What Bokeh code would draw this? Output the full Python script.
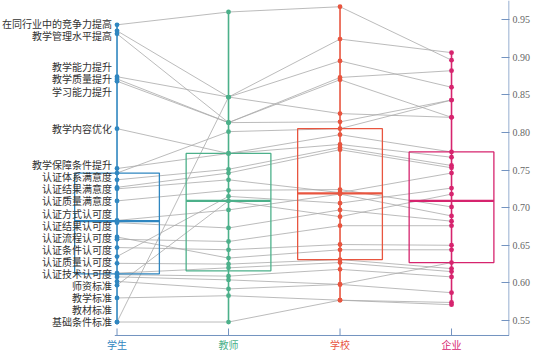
from bokeh.plotting import figure
from bokeh.models import Range1d, LinearAxis, FixedTicker, PrintfTickFormatter
from bokeh.core.properties import value
from bokeh.embed import file_html
from bokeh.resources import INLINE

categories = ["学生", "教师", "学校", "企业"]
cat_colors = ["#2f86c0", "#4cb08a", "#e8553f", "#d6246e"]

item_names = [
    "在同行业中的竞争力提高", "", "教学能力提升", "教材标准", "教学管理水平提高",
    "教学质量提升", "学习能力提升", "教学内容优化", "教学保障条件提升", "认证体系满意度",
    "", "认证结果满意度", "", "认证质量满意度", "认证方式认可度",
    "认证结果认可度", "认证流程认可度", "", "认证条件认可度", "认证质量认可度",
    "", "认证技术认可度", "", "师资标准", "",
    "", "教学标准", "基础条件标准",
]
student = [0.943, 0.935, 0.874, 0.548, 0.931, 0.871, 0.868, 0.805, 0.752, 0.746,
           0.737, 0.727, 0.725, 0.709, 0.683, 0.680, 0.661, 0.658, 0.647, 0.635,
           0.626, 0.613, 0.611, 0.608, 0.602, 0.597, 0.580, 0.548]
teacher = [0.960, 0.847, 0.847, 0.847, 0.813, 0.813, 0.813, 0.772, 0.772, 0.801,
           0.751, 0.746, 0.737, 0.723, 0.697, 0.673, 0.633, 0.655, 0.644, 0.715,
           0.625, 0.620, 0.609, 0.604, 0.592, 0.709, 0.583, 0.548]
school = [0.967, 0.924, 0.895, 0.825, 0.873, 0.870, 0.814, 0.797, 0.784, 0.805,
          0.780, 0.777, 0.720, 0.724, 0.718, 0.697, 0.644, 0.676, 0.651, 0.706,
          0.631, 0.627, 0.618, 0.598, 0.598, 0.688, 0.577, 0.577]
enterprise = [0.896, 0.906, 0.860, 0.820, 0.882, 0.820, 0.843, 0.774, 0.767, 0.843,
              0.756, 0.753, 0.746, 0.701, 0.689, 0.682, 0.644, 0.676, 0.650, 0.726,
              0.619, 0.615, 0.608, 0.627, 0.587, 0.718, 0.574, 0.571]

box_q3 = [0.746, 0.772, 0.805, 0.774]
box_median = [0.682, 0.709, 0.719, 0.709]
box_q1 = [0.612, 0.616, 0.631, 0.627]

y_ticks = [0.55, 0.60, 0.65, 0.70, 0.75, 0.80, 0.85, 0.90, 0.95]

# ---- layout constants ----
W, H = 533, 352
Y0, Y1 = 0.5075, 0.9753          # full-height frame
X0, X1 = -1.045, 3.52
AXIS_BASE = 0.5301               # where the category axis sits
ppu = H / (Y1 - Y0)

p = figure(width=W, height=H, output_backend="svg", toolbar_location=None,
           x_range=Range1d(X0, X1), y_range=Range1d(Y0, Y1),
           x_axis_location=None, y_axis_location=None,
           min_border_left=0, min_border_right=0, min_border_top=0, min_border_bottom=0)
p.outline_line_color = None
p.grid.grid_line_color = None
p.background_fill_color = "white"
p.border_fill_color = "white"

cols = [student, teacher, school, enterprise]
xs_idx = list(range(len(categories)))

# connecting lines
p.multi_line(xs=[xs_idx for _ in student],
             ys=[[cols[c][i] for c in xs_idx] for i in range(len(student))],
             line_color="#aaaaaa", line_width=1, line_alpha=0.8)

# whiskers (min to max)
p.segment(x0=xs_idx, x1=xs_idx, y0=[min(c) for c in cols], y1=[max(c) for c in cols],
          line_color=cat_colors, line_width=1.6)

# boxes
hw = 0.38
p.quad(left=[i - hw for i in xs_idx], right=[i + hw for i in xs_idx], top=box_q3, bottom=box_q1,
       fill_color=None, line_color=cat_colors, line_width=1.3)
p.segment(x0=[i - hw for i in xs_idx], x1=[i + hw for i in xs_idx], y0=box_median, y1=box_median,
          line_color=cat_colors, line_width=2.2)

# dots
for c in xs_idx:
    p.scatter(x=[c] * len(cols[c]), y=cols[c], size=4.8, color=cat_colors[c], line_width=0)

# category axis line, ticks, labels
axis_col = "#7393c0"
x_right = X1 - 0.5 * (X1 - X0) / (W - 22)
p.segment(x0=[-0.02], x1=[x_right], y0=[AXIS_BASE], y1=[AXIS_BASE], line_color=axis_col, line_width=1)
p.segment(x0=xs_idx, x1=xs_idx, y0=[AXIS_BASE] * 4, y1=[AXIS_BASE + 7 / ppu] * 4,
          line_color=axis_col, line_width=1)
p.text(x=xs_idx, y=[AXIS_BASE] * 4, text=categories, text_color=cat_colors, y_offset=9,
       text_align="center", text_baseline="middle", text_font=value("Noto Sans CJK SC"),
       text_font_size="10px")

# right axis vertical line (ends at the category axis)
p.segment(x0=[x_right], x1=[x_right], y0=[AXIS_BASE], y1=[Y1], line_color=axis_col, line_width=1)

# left labels with simple overlap avoidance
gap = 12.1 / ppu
merge_gap = gap + 11 / ppu
lab = sorted([(student[i], i) for i, n in enumerate(item_names) if n], key=lambda t: (-t[0], t[1]))
groups = []
for v, i in lab:
    g = {"idx": [i], "sum": v}
    while groups:
        n = len(g["idx"])
        top = g["sum"] / n + (n - 1) / 2 * gap
        pg = groups[-1]
        pn = len(pg["idx"])
        pbot = pg["sum"] / pn - (pn - 1) / 2 * gap
        if pbot - merge_gap < top:
            g = {"idx": pg["idx"] + g["idx"], "sum": pg["sum"] + g["sum"]}
            groups.pop()
        else:
            break
    groups.append(g)
lab_y, lab_t = [], []
for g in groups:
    n = len(g["idx"])
    top = g["sum"] / n + (n - 1) / 2 * gap
    for k, i in enumerate(g["idx"]):
        lab_y.append(top - k * gap)
        lab_t.append(item_names[i])
p.text(x=[0] * len(lab_y), y=lab_y, text=lab_t, x_offset=-5, text_align="right",
       text_baseline="middle", text_font=value("Noto Sans CJK SC"), text_font_size="10px",
       text_color="#333333")

# right axis (ticks and labels)
ax = LinearAxis(ticker=FixedTicker(ticks=y_ticks), formatter=PrintfTickFormatter(format="%.2f"))
ax.axis_line_color = None
ax.major_tick_line_color = axis_col
ax.major_tick_in = 8
ax.major_tick_out = 0
ax.minor_tick_line_color = None
ax.major_label_text_font = "Liberation Serif"
ax.major_label_text_font_size = "10px"
ax.major_label_text_color = "#666666"
ax.major_label_standoff = 3
p.add_layout(ax, "right")

open("out.html", "w").write(file_html(p, INLINE))
